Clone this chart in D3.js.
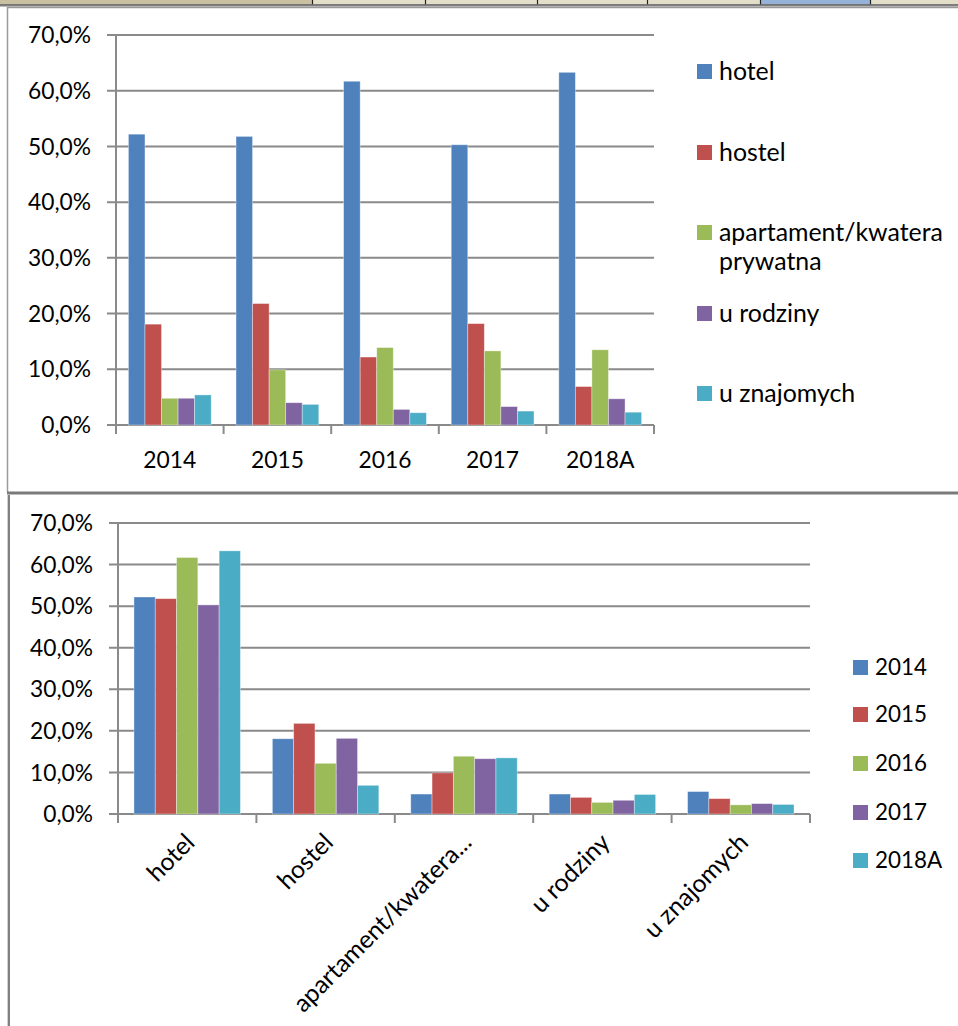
<!DOCTYPE html>
<html>
<head>
<meta charset="utf-8">
<script src="https://cdn.jsdelivr.net/npm/d3@7"></script>
<style>
  html, body { margin: 0; padding: 0; background: #fff; }
  svg { display: block; }
  text { font-family: Lato, "Open Sans", "Liberation Sans", sans-serif; fill: #000; }
</style>
</head>
<body>
<svg id="chart" width="958" height="1026"></svg>
<script>
// ---------- data ----------
const years = ["2014", "2015", "2016", "2017", "2018A"];
const types = ["hotel", "hostel", "apartament/kwatera prywatna", "u rodziny", "u znajomych"];
const typeAxisLabels = ["hotel", "hostel", "apartament/kwatera...", "u rodziny", "u znajomych"];
const hotel      = [52.2, 51.8, 61.7, 50.3, 63.3];
const hostel     = [18.1, 21.8, 12.2, 18.2, 6.9];
const apartament = [4.8, 9.9, 13.9, 13.3, 13.5];
const rodziny    = [4.8, 4.0, 2.8, 3.3, 4.7];
const znajomych  = [5.4, 3.7, 2.2, 2.5, 2.3];
const yTicks = [0, 10, 20, 30, 40, 50, 60, 70];
const colors = ["#4F81BD", "#C0504D", "#9BBB59", "#8064A2", "#4BACC6"];

const seriesByType = [hotel, hostel, apartament, rodziny, znajomych];

const svg = d3.select("#chart");
svg.append("rect").attr("width", 958).attr("height", 1026).attr("fill", "#fff");

const fmt = v => d3.format(".1f")(v).replace(".", ",") + "%";

// font size calibration so text widths match the reference
function fitSize(sample, target) {
  const t = svg.append("text").attr("font-size", 100).text(sample);
  const w = t.node().getComputedTextLength();
  t.remove();
  return 100 * target / w;
}
const fsTick = fitSize("70,0%", 63);
const fsYear = fitSize("2014", 53);
const fsLeg1 = fitSize("apartament/kwatera", 224);
const fsLeg2 = fitSize("2014", 52);
const fsRot  = fitSize("apartament/kwatera...", 240);

// ---------- spreadsheet strip at the top ----------
const strip = svg.append("g");
strip.append("rect").attr("x", 0).attr("y", 0).attr("width", 312).attr("height", 4.5).attr("fill", "#C8C0A0");
strip.append("rect").attr("x", 312).attr("y", 0).attr("width", 646).attr("height", 4.5).attr("fill", "#E3DECA");
strip.append("rect").attr("x", 760).attr("y", 0).attr("width", 110).attr("height", 4.5).attr("fill", "#95B3D7");
[312, 425, 537, 647, 760, 870].forEach(x => {
  strip.append("line").attr("x1", x + 0.5).attr("x2", x + 0.5).attr("y1", 0).attr("y2", 4.5)
    .attr("stroke", "#222").attr("stroke-width", 1.2);
});
strip.append("line").attr("x1", 0).attr("x2", 958).attr("y1", 5).attr("y2", 5).attr("stroke", "#555").attr("stroke-width", 1.5);
strip.append("line").attr("x1", 0).attr("x2", 958).attr("y1", 6.5).attr("y2", 6.5).attr("stroke", "#bbb").attr("stroke-width", 1);

// ---------- frames ----------
svg.append("line").attr("x1", 7.5).attr("x2", 958).attr("y1", 7.5).attr("y2", 7.5).attr("stroke", "#9a9a9a").attr("stroke-width", 1.5);
svg.append("line").attr("x1", 7.5).attr("x2", 7.5).attr("y1", 7).attr("y2", 492).attr("stroke", "#9a9a9a").attr("stroke-width", 1.5);
svg.append("line").attr("x1", 7).attr("x2", 958).attr("y1", 493).attr("y2", 493).attr("stroke", "#7a7a7a").attr("stroke-width", 3);
svg.append("line").attr("x1", 7.5).attr("x2", 7.5).attr("y1", 495).attr("y2", 1026).attr("stroke", "#d0d0d0").attr("stroke-width", 1);
svg.append("line").attr("x1", 9).attr("x2", 9).attr("y1", 495).attr("y2", 1026).attr("stroke", "#808080").attr("stroke-width", 2);

const gridColor = "#8a8a8a";

function drawChart(opt) {
  const g = svg.append("g");
  const y = d3.scaleLinear().domain([0, 70]).range([opt.y0, opt.y1]);
  const x0 = d3.scaleBand().domain(opt.cats).range([opt.xL, opt.xR]).paddingInner(0).paddingOuter(0);
  const x1 = d3.scaleBand().domain(opt.series).range([0, x0.bandwidth()]).paddingInner(0).paddingOuter(0.75);

  // gridlines
  g.selectAll(".grid").data(yTicks).join("line")
    .attr("x1", opt.xL - 9).attr("x2", opt.xR)
    .attr("y1", d => y(d)).attr("y2", d => y(d))
    .attr("stroke", gridColor).attr("stroke-width", 2);
  // y axis line
  g.append("line").attr("x1", opt.xL).attr("x2", opt.xL).attr("y1", opt.y1).attr("y2", opt.y0 + 9)
    .attr("stroke", gridColor).attr("stroke-width", 2);
  // x ticks at category boundaries
  const bounds = opt.cats.map(c => x0(c)).concat([opt.xR]);
  g.selectAll(".xt").data(bounds.slice(1)).join("line")
    .attr("x1", d => d).attr("x2", d => d).attr("y1", opt.y0).attr("y2", opt.y0 + 9)
    .attr("stroke", gridColor).attr("stroke-width", 2);

  // bars
  opt.cats.forEach((c, ci) => {
    opt.series.forEach((s, si) => {
      const v = opt.value(ci, si);
      g.append("rect")
        .attr("x", x0(c) + x1(s))
        .attr("y", y(v))
        .attr("width", x1.bandwidth())
        .attr("height", y(0) - y(v))
        .attr("fill", colors[si])
        .attr("stroke", "rgba(255,255,255,0.45)")
        .attr("stroke-width", 0.8);
    });
  });

  // y tick labels
  g.selectAll(".yl").data(yTicks).join("text")
    .attr("x", opt.labelX).attr("y", d => y(d)).attr("dy", "0.36em")
    .attr("text-anchor", "end").attr("font-size", fsTick)
    .text(d => fmt(d));

  return { x0, y };
}

// ---------- top chart: categories = years, series = types ----------
const chartA = drawChart({
  cats: years, series: types,
  xL: 116, xR: 654, y0: 425, y1: 35, labelX: 91,
  value: (ci, si) => seriesByType[si][ci]
});
svg.selectAll(".yearlab").data(years).join("text")
  .attr("x", d => chartA.x0(d) + chartA.x0.bandwidth() / 2)
  .attr("y", 468)
  .attr("text-anchor", "middle").attr("font-size", fsYear)
  .text(d => d);

// top legend
const leg1 = svg.append("g");
const leg1Base = [80, 161, 241, 322, 402];
types.forEach((t, i) => {
  leg1.append("rect").attr("x", 697).attr("y", leg1Base[i] - 16).attr("width", 15).attr("height", 15).attr("fill", colors[i]);
  const txt = leg1.append("text").attr("x", 719).attr("y", leg1Base[i]).attr("font-size", fsLeg1);
  if (t === "apartament/kwatera prywatna") {
    txt.append("tspan").attr("x", 719).text("apartament/kwatera");
    txt.append("tspan").attr("x", 719).attr("dy", 29).text("prywatna");
  } else {
    txt.text(t);
  }
});

// ---------- bottom chart: categories = types, series = years ----------
const chartB = drawChart({
  cats: types, series: years,
  xL: 118, xR: 810, y0: 814, y1: 523, labelX: 93,
  value: (ci, si) => seriesByType[ci][si]
});
svg.selectAll(".typelab").data(types).join("text")
  .attr("transform", d => `translate(${chartB.x0(d) + chartB.x0.bandwidth() / 2 + 9},${844}) rotate(-45)`)
  .attr("text-anchor", "end").attr("font-size", fsRot)
  .text((d, i) => typeAxisLabels[i]);

// bottom legend
const leg2 = svg.append("g");
const leg2Base = [675, 722, 771, 820, 868];
years.forEach((yr, i) => {
  leg2.append("rect").attr("x", 853).attr("y", leg2Base[i] - 15).attr("width", 15).attr("height", 15).attr("fill", colors[i]);
  leg2.append("text").attr("x", 875).attr("y", leg2Base[i]).attr("font-size", fsLeg2).text(yr);
});
</script>
</body>
</html>
